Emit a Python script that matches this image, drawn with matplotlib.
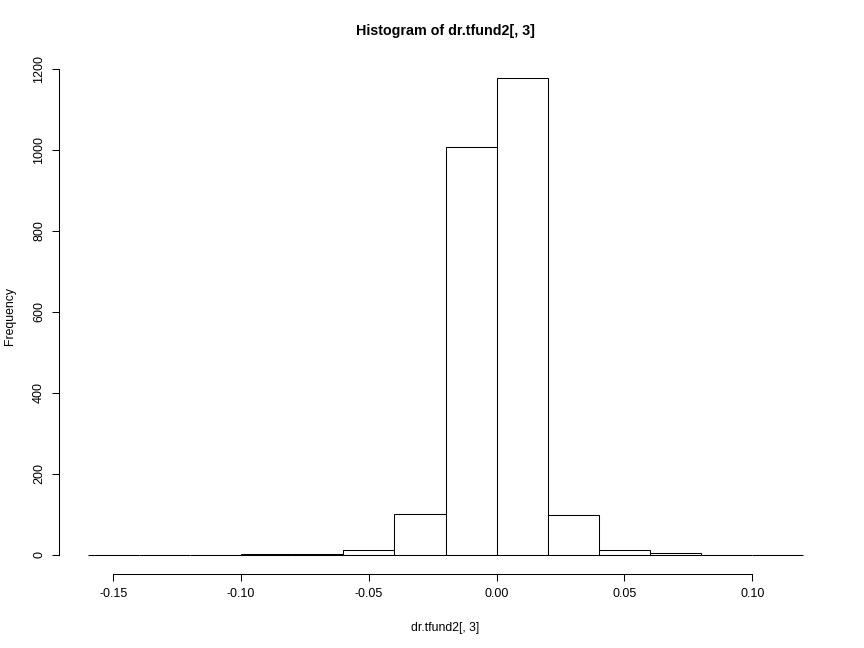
import numpy as np
import matplotlib
matplotlib.use("Agg")
from matplotlib import pyplot as plt

plt.rcParams['font.family'] = ['Liberation Sans', 'DejaVu Sans']

# bin edges and counts
bin_left = [-0.16, -0.14, -0.12, -0.10, -0.08, -0.06, -0.04, -0.02,
            0.00, 0.02, 0.04, 0.06, 0.08, 0.10]
counts = [1, 0, 0, 2, 3, 11, 101, 1007, 1177, 99, 13, 4, 0, 1]
bin_width = 0.02
x_ticks = [-0.15, -0.10, -0.05, 0.00, 0.05, 0.10]
x_tick_labels = ['-0.15', '-0.10', '-0.05', '0.00', '0.05', '0.10']
y_ticks = [0, 200, 400, 600, 800, 1000, 1200]

fig = plt.figure(figsize=(8.64, 6.48), dpi=100)
ax = fig.add_axes([0.0683, 0.1142, 0.8947, 0.7948])

ax.bar(bin_left, counts, width=bin_width, align='edge',
       facecolor='white', edgecolor='black', linewidth=0.75)

# R-style 4% padding
x_lo, x_hi = bin_left[0], bin_left[-1] + bin_width
pad = 0.04 * (x_hi - x_lo)
ax.set_xlim(x_lo - pad, x_hi + pad)
ax.set_ylim(-0.04 * max(counts), 1.04 * max(counts))

for s in ['top', 'right']:
    ax.spines[s].set_visible(False)
ax.spines['left'].set_bounds(0, 1200)
ax.spines['bottom'].set_bounds(x_ticks[0], x_ticks[-1])
ax.spines['left'].set_linewidth(0.75)
ax.spines['bottom'].set_linewidth(0.75)

ax.set_xticks(x_ticks)
ax.set_xticklabels(x_tick_labels)
ax.set_yticks(y_ticks)
ax.set_yticklabels([str(v) for v in y_ticks], rotation=90, va='center')
ax.tick_params(direction='out', length=5, width=0.75, labelsize=9, pad=5)

ax.set_xlabel('dr.tfund2[, 3]', fontsize=8.8, labelpad=16)
ax.set_ylabel('Frequency', fontsize=8.8, labelpad=12)
ax.set_title('Histogram of dr.tfund2[, 3]', fontsize=10.3, fontweight='bold', pad=17)

fig.savefig('out.png', dpi=100)
